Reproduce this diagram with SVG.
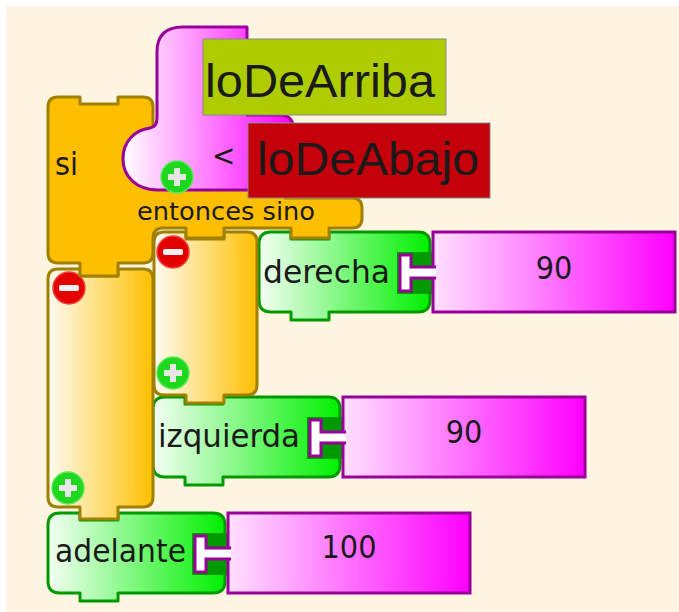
<svg xmlns="http://www.w3.org/2000/svg" xmlns:xlink="http://www.w3.org/1999/xlink" width="679" height="612" viewBox="0 0 679 612">
<style>
.ob{stroke:#A08000;stroke-width:3;stroke-linejoin:round}
.gb{fill:url(#gGreen);stroke:#009900;stroke-width:3;stroke-linejoin:round}
.mb{fill:url(#gMag);stroke:#990099;stroke-width:3}
.sk{fill:#009900}
.skw{fill:#fff}
.skl{fill:none;stroke:#990099;stroke-width:3}
.lbl{font-family:'DejaVu Sans Condensed','DejaVu Sans',sans-serif;font-stretch:condensed;font-size:32px;fill:#1a1a1a}
.big{font-family:'Liberation Sans',Arial,sans-serif;font-size:47px;fill:#1a1a1a}
</style>
<defs>
<linearGradient id="gOrange" x1="0" y1="0" x2="1" y2="0"><stop offset="0" stop-color="#FFFBF2"/><stop offset="1" stop-color="#FFC000"/></linearGradient>
<linearGradient id="gGreen" x1="0" y1="0" x2="1" y2="0"><stop offset="0" stop-color="#F4FFF4"/><stop offset="1" stop-color="#00F000"/></linearGradient>
<linearGradient id="gMag" x1="0" y1="0" x2="1" y2="0"><stop offset="0" stop-color="#FFE0FF"/><stop offset="1" stop-color="#FF00FF"/></linearGradient>
<linearGradient id="gPink" gradientUnits="userSpaceOnUse" x1="123" y1="0" x2="293" y2="0"><stop offset="0" stop-color="#FFFFFF"/><stop offset="1" stop-color="#FF00FF"/></linearGradient>
<g id="plus"><circle r="16" fill="#1ED81E" stroke="#5CE65C" stroke-width="1.5"/><rect x="-9" y="-3" width="18" height="6" fill="#E6E6E6"/><rect x="-3" y="-9" width="6" height="18" fill="#E6E6E6"/></g>
<g id="minus"><circle r="16" fill="#E50000" stroke="#F04040" stroke-width="1.5"/><rect x="-10" y="-3" width="20" height="6" rx="2" fill="#F2F2F2"/></g>
</defs>
<rect x="0" y="0" width="679" height="612" fill="#FFFFFF"/>
<rect x="6" y="6" width="673" height="606" fill="#FFF5E0"/>

<g id="adelante">
<path class="gb" d="M60,513 H80 V520 H118 V513 H213 Q225,513 225,525 V581 Q225,593 213,593 H118 V601 H80 V593 H60 Q48,593 48,581 V525 Q48,513 60,513 Z"/>
<text class="lbl" x="55" y="562" textLength="131" lengthAdjust="spacingAndGlyphs">adelante</text>
<rect class="sk" x="192" y="533" width="36" height="42"/>
<rect class="mb" x="228" y="513" width="242" height="80"/>
<path class="skw" d="M195,536 H206 V548 H231 V559 H206 V572 H195 Z"/>
<path class="skl" d="M231,548 H206 V536 H195 V572 H206 V559 H231"/>
<text class="lbl" x="349" y="558" text-anchor="middle">100</text>
</g>

<g id="izquierda">
<path class="gb" d="M165,397 H185 V404 H223 V397 H328 Q340,397 340,409 V465 Q340,477 328,477 H223 V485 H185 V477 H165 Q153,477 153,465 V409 Q153,397 165,397 Z"/>
<text class="lbl" x="158" y="447" textLength="142" lengthAdjust="spacingAndGlyphs">izquierda</text>
<rect class="sk" x="307" y="417" width="36" height="42"/>
<rect class="mb" x="343" y="397" width="242" height="80"/>
<path class="skw" d="M310,420 H321 V432 H346 V443 H321 V456 H310 Z"/>
<path class="skl" d="M346,432 H321 V420 H310 V456 H321 V443 H346"/>
<text class="lbl" x="464" y="443" text-anchor="middle">90</text>
</g>

<g id="derecha">
<path class="gb" d="M271,232 H291 V239 H329 V232 H418 Q430,232 430,244 V300 Q430,312 418,312 H329 V320 H291 V312 H271 Q259,312 259,300 V244 Q259,232 271,232 Z"/>
<text class="lbl" x="263" y="283" textLength="127" lengthAdjust="spacingAndGlyphs">derecha</text>
<rect class="sk" x="397" y="252" width="36" height="42"/>
<rect class="mb" x="433" y="232" width="242" height="80"/>
<path class="skw" d="M400,255 H411 V267 H436 V278 H411 V291 H400 Z"/>
<path class="skl" d="M436,267 H411 V255 H400 V291 H411 V278 H436"/>
<text class="lbl" x="554" y="279" text-anchor="middle">90</text>
</g>

<g id="entonces">
<path class="ob" fill="url(#gOrange)" d="M58,269 H80 V276 H118 V269 H143 Q153,269 153,279 V497 Q153,507 143,507 H118 V519 H80 V507 H58 Q48,507 48,497 V279 Q48,269 58,269 Z"/>
<use xlink:href="#minus" x="69" y="288"/>
<use xlink:href="#plus" x="68" y="488"/>
</g>

<g id="sino">
<path class="ob" fill="url(#gOrange)" d="M164,232 H186 V239 H224 V232 H247 Q257,232 257,242 V385 Q257,395 247,395 H224 V403 H186 V395 H164 Q154,395 154,385 V242 Q154,232 164,232 Z"/>
<use xlink:href="#minus" x="173" y="252"/>
<use xlink:href="#plus" x="173" y="373"/>
</g>

<g id="si">
<path class="ob" fill="#FFBF00" d="M58,97 H80 V104 H118 V97 H143 Q153,97 153,107 V170 H285 V198 H352 Q362,198 362,208 V218 Q362,228 352,228 H329 V238 H291 V228 H224 V238 H186 V228 H163 Q153,228 153,238 V253 Q153,263 143,263 H118 V276 H80 V263 H58 Q48,263 48,253 V107 Q48,97 58,97 Z"/>
<text class="lbl" x="55" y="175" font-size="31">si</text>
<text class="lbl" x="137" y="220" style="font-size:24px" textLength="178" lengthAdjust="spacingAndGlyphs">entonces sino</text>
</g>

<g id="menor">
<path fill="url(#gPink)" stroke="#990099" stroke-width="3" stroke-linejoin="round" d="M157,52 Q157,27 183,27 H247 V115 H280 Q293,115 293,128 V190 H158 C136,190 123,176 123,159 C123,141 135,130 150,128 Q157,127 157,118 Z"/>
<text class="lbl" x="212" y="166" style="font-size:31px">&lt;</text>
<use xlink:href="#plus" x="177" y="177"/>
</g>

<g id="loDeArriba">
<rect x="203" y="39" width="243" height="76" fill="#AECD00" stroke="#888" stroke-width="1"/>
<text class="big" x="205" y="97" textLength="230" lengthAdjust="spacingAndGlyphs">loDeArriba</text>
</g>

<g id="loDeAbajo">
<rect x="248" y="123" width="242" height="75" fill="#C4000A" stroke="#888" stroke-width="1"/>
<text class="big" x="257" y="175" textLength="222" lengthAdjust="spacingAndGlyphs">loDeAbajo</text>
</g>

<g id="connectors"/>
</svg>
